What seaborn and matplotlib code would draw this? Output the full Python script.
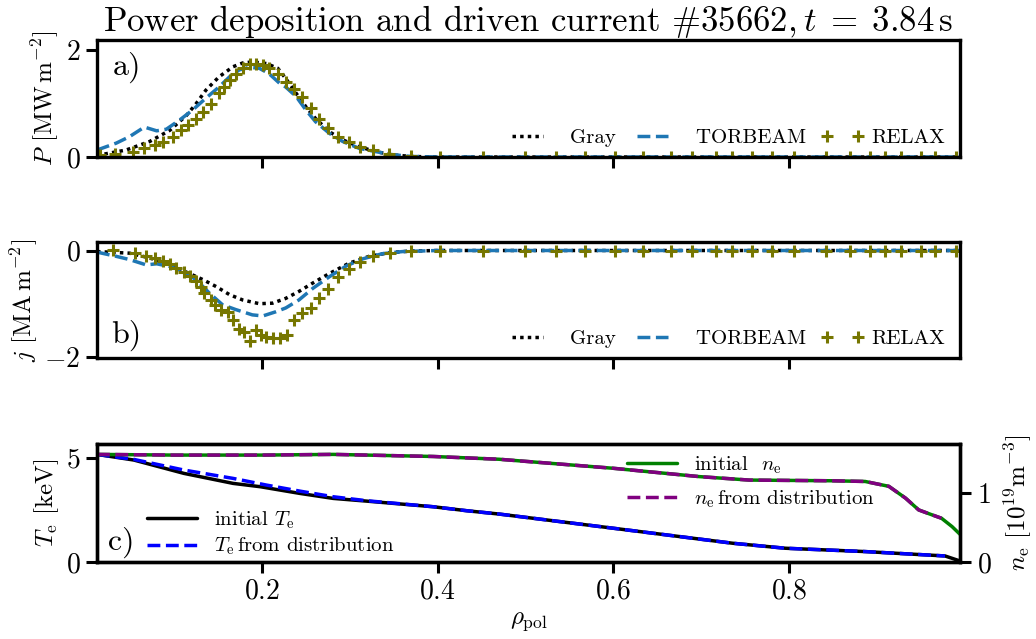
import numpy as np
import pandas as pd
import matplotlib
matplotlib.use("Agg")
import matplotlib.pyplot as plt
import seaborn as sns

# ---------------- data ----------------
# panel a: power deposition P [MW m^-2]
gray_rho_P = [0.012, 0.045, 0.072, 0.095, 0.114, 0.125, 0.136, 0.151, 0.167, 0.178,
              0.189, 0.205, 0.218, 0.227, 0.239, 0.250, 0.261, 0.277, 0.292, 0.311,
              0.330, 0.349, 0.370, 0.400, 0.500, 0.600, 0.700, 0.800, 0.900, 0.995]
gray_P = [0.03, 0.13, 0.29, 0.50, 0.78, 1.00, 1.25, 1.50, 1.69, 1.76,
          1.78, 1.75, 1.66, 1.47, 1.19, 0.94, 0.72, 0.47, 0.32, 0.19,
          0.10, 0.04, 0.01, 0.0, 0.0, 0.0, 0.0, 0.0, 0.0, 0.0]

tb_rho_P = [0.012, 0.034, 0.049, 0.066, 0.080, 0.091, 0.106, 0.121, 0.136, 0.151,
            0.163, 0.174, 0.186, 0.197, 0.208, 0.220, 0.227, 0.239, 0.250, 0.261,
            0.277, 0.292, 0.311, 0.330, 0.345, 0.370, 0.400, 0.500, 0.700, 0.900, 0.995]
tb_P = [0.13, 0.26, 0.38, 0.56, 0.49, 0.52, 0.69, 0.88, 1.10, 1.31,
        1.50, 1.63, 1.68, 1.66, 1.56, 1.38, 1.31, 1.13, 0.88, 0.66,
        0.44, 0.29, 0.16, 0.10, 0.05, 0.01, 0.0, 0.0, 0.0, 0.0, 0.0]

rx_rho_P = [0.016, 0.033, 0.053, 0.066, 0.078, 0.087, 0.099, 0.108, 0.116, 0.125,
            0.133, 0.142, 0.151, 0.157, 0.163, 0.170, 0.178, 0.186, 0.193, 0.201,
            0.208, 0.218, 0.227, 0.237, 0.246, 0.256, 0.265, 0.275, 0.286, 0.299,
            0.312, 0.326, 0.345, 0.370, 0.403, 0.452, 0.500, 0.535, 0.568, 0.602,
            0.634, 0.666, 0.690, 0.717, 0.735, 0.758, 0.781, 0.806, 0.842, 0.870,
            0.892, 0.910, 0.928, 0.951, 0.967, 0.990]
rx_P = [0.04, 0.06, 0.10, 0.16, 0.22, 0.29, 0.38, 0.50, 0.60, 0.72,
        0.85, 1.00, 1.19, 1.31, 1.44, 1.56, 1.66, 1.74, 1.74, 1.72,
        1.66, 1.56, 1.41, 1.28, 1.13, 0.91, 0.72, 0.54, 0.38, 0.29,
        0.19, 0.13, 0.06, 0.02, 0.0, 0.0, 0.0, 0.0, 0.0, 0.0,
        0.0, 0.0, 0.0, 0.0, 0.0, 0.0, 0.0, 0.0, 0.0, 0.0,
        0.0, 0.0, 0.0, 0.0, 0.0, 0.0]

# panel b: driven current density j [MA m^-2]
gray_rho_j = [0.012, 0.049, 0.072, 0.095, 0.117, 0.133, 0.148, 0.163, 0.178, 0.197,
              0.212, 0.227, 0.242, 0.258, 0.277, 0.299, 0.322, 0.345, 0.370, 0.400, 0.995]
gray_j = [-0.02, -0.05, -0.14, -0.27, -0.43, -0.55, -0.68, -0.83, -0.93, -1.00,
          -0.99, -0.90, -0.77, -0.61, -0.43, -0.24, -0.11, -0.04, -0.01, 0.0, 0.0]

tb_rho_j = [0.012, 0.034, 0.049, 0.068, 0.080, 0.095, 0.110, 0.125, 0.140, 0.155,
            0.170, 0.189, 0.201, 0.216, 0.227, 0.242, 0.258, 0.277, 0.296, 0.314,
            0.337, 0.360, 0.400, 0.995]
tb_j = [-0.03, -0.11, -0.17, -0.27, -0.25, -0.30, -0.39, -0.55, -0.80, -1.02,
        -1.11, -1.21, -1.23, -1.15, -1.08, -0.93, -0.71, -0.49, -0.29, -0.16,
        -0.06, -0.02, 0.0, 0.0]

rx_rho_j = [0.030, 0.055, 0.068, 0.078, 0.087, 0.095, 0.102, 0.111, 0.118, 0.125,
            0.131, 0.134, 0.142, 0.146, 0.153, 0.161, 0.167, 0.174, 0.180, 0.186,
            0.193, 0.199, 0.205, 0.212, 0.220, 0.229, 0.237, 0.246, 0.256, 0.265,
            0.275, 0.286, 0.299, 0.312, 0.326, 0.346, 0.370, 0.403, 0.452, 0.500,
            0.535, 0.568, 0.602, 0.634, 0.666, 0.690, 0.717, 0.735, 0.758, 0.781,
            0.806, 0.842, 0.870, 0.892, 0.910, 0.928, 0.951, 0.967, 0.990]
rx_j = [0.01, -0.05, -0.10, -0.14, -0.19, -0.25, -0.33, -0.41, -0.48, -0.58,
        -0.68, -0.80, -0.93, -1.02, -1.11, -1.16, -1.30, -1.48, -1.54, -1.71,
        -1.50, -1.58, -1.63, -1.65, -1.65, -1.58, -1.30, -1.18, -1.08, -0.89,
        -0.73, -0.49, -0.35, -0.21, -0.11, -0.04, -0.01, 0.0, 0.0, 0.0,
        0.0, 0.0, 0.0, 0.0, 0.0, 0.0, 0.0, 0.0, 0.0, 0.0,
        0.0, 0.0, 0.0, 0.0, 0.0, 0.0, 0.0, 0.0, 0.0]

# panel c: profiles
te_rho = [0.012, 0.054, 0.111, 0.167, 0.198, 0.243, 0.281, 0.319, 0.395, 0.433,
          0.470, 0.600, 0.736, 0.796, 0.887, 0.978, 0.995]
te_init = [5.16, 4.89, 4.25, 3.77, 3.61, 3.29, 3.05, 2.92, 2.65, 2.46,
           2.30, 1.62, 0.90, 0.66, 0.50, 0.29, 0.05]
te_rho_dist = [0.012, 0.054, 0.111, 0.167, 0.205, 0.243, 0.281, 0.319, 0.395, 0.433,
               0.470, 0.600, 0.736, 0.796, 0.887, 0.978]
te_dist = [5.16, 4.92, 4.41, 4.01, 3.69, 3.40, 3.13, 2.94, 2.65, 2.46,
           2.30, 1.62, 0.90, 0.66, 0.50, 0.29]

ne_rho = [0.012, 0.100, 0.200, 0.281, 0.395, 0.470, 0.600, 0.698, 0.755, 0.849,
          0.887, 0.914, 0.933, 0.948, 0.963, 0.974, 0.986, 0.995]
ne_init = [1.55, 1.54, 1.54, 1.55, 1.52, 1.48, 1.35, 1.23, 1.18, 1.17,
           1.16, 1.09, 0.92, 0.75, 0.68, 0.63, 0.51, 0.40]
ne_rho_dist = [0.012, 0.100, 0.200, 0.281, 0.395, 0.470, 0.600, 0.698, 0.755, 0.849,
               0.887, 0.914, 0.933, 0.948, 0.963, 0.974]
ne_dist = [1.55, 1.54, 1.54, 1.55, 1.52, 1.48, 1.35, 1.23, 1.18, 1.17,
           1.16, 1.09, 0.92, 0.75, 0.68, 0.63]

x_ticks = [0.2, 0.4, 0.6, 0.8]
title = r"Power deposition and driven current $\#35662, t\;=\;3.84\,\mathrm{s}$"

# ---------------- style ----------------
sns.set_theme(style="ticks")
plt.rcParams.update({
    "font.family": "serif",
    "font.serif": ["cmr10"],
    "mathtext.fontset": "cm",
    "axes.formatter.use_mathtext": True,
    "axes.unicode_minus": True,
    "axes.linewidth": 2.4,
    "axes.edgecolor": "black",
    "xtick.color": "black",
    "ytick.color": "black",
    "text.color": "black",
    "axes.labelcolor": "black",
})

fig = plt.figure(figsize=(10.36, 6.39), dpi=100)
L, W = 0.0936, 0.833
axa = fig.add_axes([L, 0.7543, W, 0.1831])
axb = fig.add_axes([L, 0.4398, W, 0.1815], sharex=axa)
axc = fig.add_axes([L, 0.1205, W, 0.1847], sharex=axa)
axn = axc.twinx()

LW = 2.5
DOT = (0, (1, 1.2))
OLIVE = "#767600"
TBLUE = "#1f77b4"

def relax(ax, x, y):
    sns.lineplot(x=x, y=y, ax=ax, color=OLIVE, linestyle="none", marker="+",
                 markersize=8, markeredgewidth=2.2, markeredgecolor=OLIVE,
                 label="RELAX", sort=False)

# panel a
sns.lineplot(x=gray_rho_P, y=gray_P, ax=axa, color="black", linestyle=DOT, linewidth=LW, label="  Gray")
sns.lineplot(x=tb_rho_P, y=tb_P, ax=axa, color=TBLUE, linestyle="--", linewidth=LW, label="  TORBEAM")
relax(axa, rx_rho_P, rx_P)
# panel b
sns.lineplot(x=gray_rho_j, y=gray_j, ax=axb, color="black", linestyle=DOT, linewidth=LW, label="  Gray")
sns.lineplot(x=tb_rho_j, y=tb_j, ax=axb, color=TBLUE, linestyle="--", linewidth=LW, label="  TORBEAM")
relax(axb, rx_rho_j, rx_j)
# panel c
sns.lineplot(x=te_rho, y=te_init, ax=axc, color="black", linestyle="-", linewidth=LW,
             label=r"initial $T_\mathrm{e}$")
sns.lineplot(x=te_rho_dist, y=te_dist, ax=axc, color="blue", linestyle="--", linewidth=LW,
             label=r"$T_\mathrm{e}\,$from distribution")
sns.lineplot(x=ne_rho, y=ne_init, ax=axn, color="green", linestyle="-", linewidth=LW,
             label=r"initial  $n_\mathrm{e}$")
sns.lineplot(x=ne_rho_dist, y=ne_dist, ax=axn, color="purple", linestyle="--", linewidth=LW,
             label=r"$n_\mathrm{e}\,$from distribution")

# axes setup
axa.set_xlim(0.012, 0.995)
axa.set_ylim(0, 2.19)
axb.set_ylim(-2.02, 0.16)
axc.set_ylim(0, 5.66)
axn.set_ylim(0, 1.70)
axa.set_yticks([0, 2])
axb.set_yticks([-2, 0])
axc.set_yticks([0, 5])
axn.set_yticks([0, 1])
axc.set_xticks(x_ticks)

for ax in (axa, axb, axc, axn):
    ax.tick_params(direction="out", length=8, width=2.2, labelsize=20, pad=4)
    for s in ax.spines.values():
        s.set_visible(True)
        s.set_linewidth(2.4)
        s.set_color("black")
    ax.grid(False)
axa.tick_params(axis="x", labelbottom=False)
axb.tick_params(axis="x", labelbottom=False)
axa.tick_params(right=False)
axb.tick_params(right=False)

LFS = 18
axa.set_ylabel(r"$P$ [MW$\,$m$^{-2}$]", fontsize=LFS, labelpad=3)
axb.set_ylabel(r"$j$ [MA$\,$m$^{-2}$]", fontsize=LFS, labelpad=3)
axc.set_ylabel(r"$T_\mathrm{e}$ [keV]", fontsize=LFS, labelpad=3)
axn.set_ylabel(r"$n_\mathrm{e}$ [$10^{19}$m$^{-3}$]", fontsize=LFS, labelpad=8)
axc.set_xlabel(r"$\rho_\mathrm{pol}$", fontsize=LFS, labelpad=4)
axa.set_xlabel("")
axb.set_xlabel("")
axa.set_title(title, fontsize=25, pad=6)

axa.text(0.018, 0.9, "a)", transform=axa.transAxes, fontsize=23, va="top", ha="left")
axb.text(0.016, 0.06, "b)", transform=axb.transAxes, fontsize=23, va="bottom", ha="left")
axc.text(0.013, 0.03, "c)", transform=axc.transAxes, fontsize=23, va="bottom", ha="left")

legkw = dict(frameon=False, fontsize=15, ncol=3, numpoints=2, handlelength=2.1,
             handletextpad=0.35, columnspacing=0.7, loc="lower right",
             bbox_to_anchor=(1.0, -0.04), borderaxespad=0.3)
axa.legend(**legkw)
axb.legend(**legkw)
axc.legend(frameon=False, fontsize=15, loc="lower left", handlelength=2.4,
           handletextpad=0.85, labelspacing=0.25, bbox_to_anchor=(0.036, -0.12))
axn.legend(frameon=False, fontsize=15, loc="upper left", handlelength=2.4,
           handletextpad=0.85, labelspacing=0.6, bbox_to_anchor=(0.592, 1.07))

fig.savefig("out.png", dpi=100)
